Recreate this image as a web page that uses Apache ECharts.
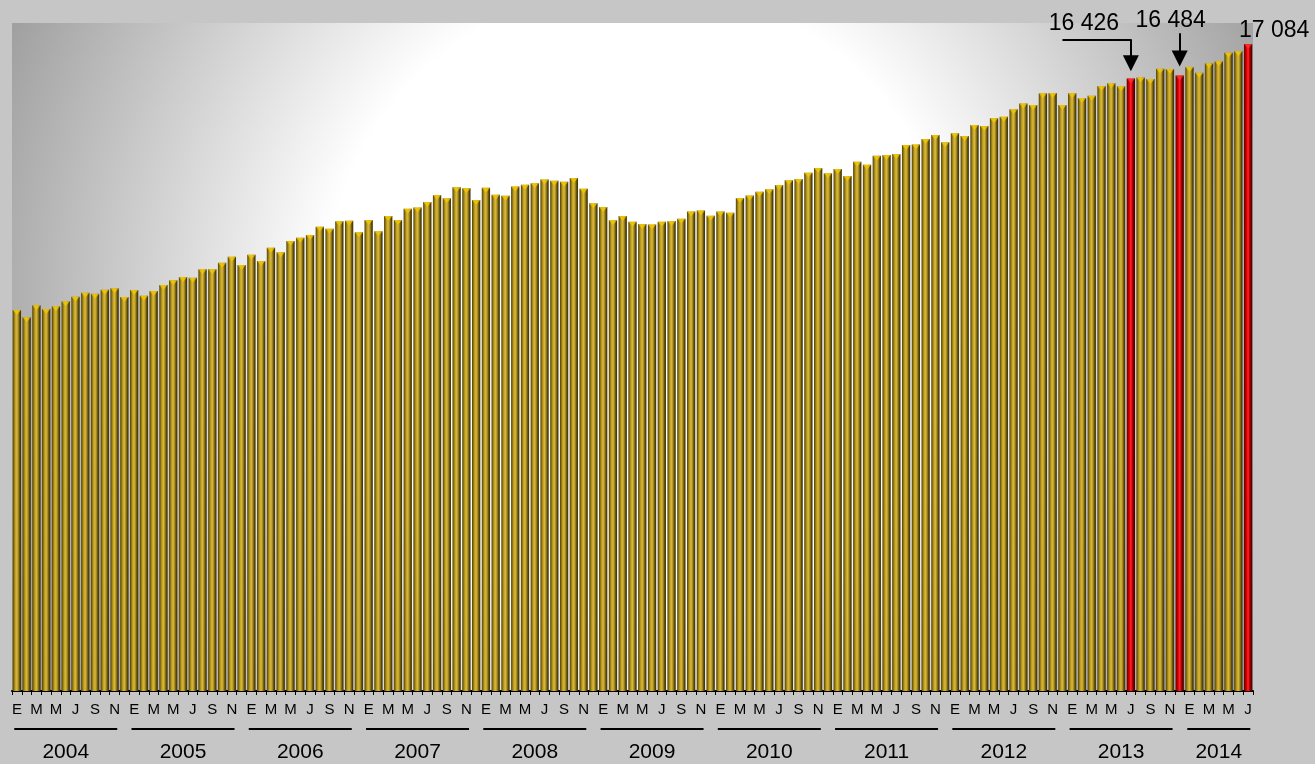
<!DOCTYPE html>
<html>
<head>
<meta charset="utf-8">
<script src="https://cdn.jsdelivr.net/npm/echarts@6/dist/echarts.min.js"></script>
<style>
  html, body { margin: 0; padding: 0; background: #c6c6c6; }
  #chart { width: 1315px; height: 764px; }
</style>
</head>
<body>
<div id="chart"></div>
<script>
// ── datos ──
const startYear = 2004
const monthLetters = ['E', 'F', 'M', 'A', 'M', 'J', 'J', 'A', 'S', 'O', 'N', 'D']
const years = ['2004', '2005', '2006', '2007', '2008', '2009', '2010', '2011', '2012', '2013', '2014']
const values = [
  12041, 11903, 12131, 12060, 12112, 12206, 12294, 12369, 12350, 12426, 12453, 12288, // 2004
  12421, 12313, 12402, 12515, 12604, 12667, 12654, 12813, 12813, 12938, 13052, 12894, // 2005
  13090, 12970, 13222, 13135, 13349, 13412, 13463, 13620, 13582, 13723, 13734, 13514, // 2006
  13747, 13533, 13823, 13747, 13962, 13981, 14089, 14221, 14159, 14367, 14348, 14126, // 2007
  14360, 14227, 14208, 14379, 14416, 14443, 14515, 14492, 14473, 14543, 14339, 14064, // 2008
  13994, 13742, 13823, 13715, 13672, 13662, 13715, 13728, 13772, 13908, 13927, 13829, // 2009
  13908, 13886, 14164, 14212, 14284, 14329, 14411, 14500, 14524, 14644, 14733, 14632, // 2010
  14714, 14581, 14852, 14795, 14966, 14979, 14998, 15169, 15175, 15283, 15358, 15220, // 2011
  15391, 15339, 15548, 15529, 15675, 15705, 15846, 15952, 15927, 16149, 16154, 15927, // 2012
  16149, 16060, 16103, 16287, 16338, 16282, 16426, 16445, 16420, 16615, 16609, 16484, // 2013
  16647, 16539, 16717, 16755, 16918, 16945, 17084                                     // 2014
]
// barras resaltadas en rojo (jul-2013, dic-2013, jul-2014)
const highlightIdx = [114, 119, 126]

// categorías "AAAA-M"
const categories = values.map((v, i) => `${startYear + Math.floor(i / 12)}-${i % 12 + 1}`)

// etiqueta de año centrada bajo cada grupo de meses
const yearLabelAt = {}
years.forEach((y, k) => {
  const start = k * 12
  const n = Math.min(12, values.length - start)
  yearLabelAt[start + Math.floor((n - 1) / 2)] = { year: y, full: n === 12 }
})

const FONT = "'Liberation Sans', Arial, sans-serif"

function fmt(v) {
  return String(v).replace(/\B(?=(\d{3})+(?!\d))/g, ' ')
}

function barGradient(c) {
  return {
    type: 'linear', x: 0, y: 0, x2: 1, y2: 0,
    colorStops: c.map((col, i) => ({ offset: i / (c.length - 1), color: col })),
  }
}
const GOLD = barGradient(['#4a3c08', '#8c7412', '#c8a420', '#d6b840', '#a88c1c', '#5e4c0c', '#3a2e06'])
const RED  = barGradient(['#5a0000', '#a00000', '#e00000', '#ff2a2a', '#c00000', '#700000', '#400000'])

// posiciones de las etiquetas de valor (dx, dy)
const labelOffsets = { 114: [-47, -38], 119: [-9, -38], 126: [26, 3] }

const barData = values.map((v, i) => {
  const hot = highlightIdx.includes(i)
  const item = { value: v, itemStyle: { color: hot ? RED : GOLD } }
  if (hot) {
    item.label = {
      show: true, position: 'top', offset: labelOffsets[i],
      formatter: p => fmt(p.value),
      fontSize: 23, color: '#000', fontFamily: FONT,
    }
  }
  return item
})

const capData = values.map((v, i) => ({
  value: v,
  itemStyle: { color: highlightIdx.includes(i) ? '#ff3030' : '#f2c800' },
}))

// flechas de anotación
const vJul = values[114], vDic = values[119]
const arrowLines = [
  [{ coord: [categories[107], vJul + 745], symbol: 'none' },
   { coord: [categories[114], vJul + 745], symbol: 'none' }],
  [{ coord: [categories[114], vJul + 745], symbol: 'none' },
   { coord: [categories[114], vJul + 290], symbol: 'triangle' }],
  [{ coord: [categories[119], vDic + 800], symbol: 'none' },
   { coord: [categories[119], vDic + 325], symbol: 'triangle' }],
]

const chart = echarts.init(document.getElementById('chart'))

chart.setOption({
  animation: false,
  backgroundColor: '#c6c6c6',
  grid: {
    left: 12, right: 62, top: 23, bottom: 73,
    show: true, borderWidth: 0,
    backgroundColor: {
      type: 'radial', x: 640, y: 300, r: 700, global: true,
      colorStops: [
        { offset: 0, color: '#ffffff' },
        { offset: 0.45, color: '#ffffff' },
        { offset: 1, color: '#9c9c9c' },
      ],
    },
  },
  xAxis: [
    {
      type: 'category',
      data: categories,
      axisLine: { lineStyle: { color: '#000', width: 2 } },
      axisTick: { show: true, interval: 0, length: 4, lineStyle: { color: '#000', width: 1 } },
      axisLabel: {
        interval: 1, margin: 11,
        formatter: (v, i) => monthLetters[i % 12],
        fontSize: 15, color: '#000', fontFamily: FONT,
      },
      splitLine: { show: false },
    },
    {
      type: 'category',
      data: categories,
      position: 'bottom',
      axisLine: { show: false },
      axisTick: { show: false },
      axisLabel: {
        interval: 0, margin: 37,
        formatter: (v, i) => {
          const y = yearLabelAt[i]
          if (!y) return ''
          return (y.full ? '{l| }' : '{s| }') + '\n{y|' + y.year + '}'
        },
        rich: {
          l: { width: 103, height: 2, lineHeight: 2, fontSize: 2, backgroundColor: '#000' },
          s: { width: 63, height: 2, lineHeight: 2, fontSize: 2, backgroundColor: '#000' },
          y: { fontSize: 21, lineHeight: 45, color: '#000', fontFamily: FONT },
        },
      },
      splitLine: { show: false },
    },
  ],
  yAxis: {
    type: 'value', min: 4820, max: 17480, show: false,
    splitLine: { show: false },
  },
  series: [
    {
      type: 'bar',
      data: barData,
      barCategoryGap: '15%',
      markLine: {
        silent: true,
        symbolSize: [16, 16],
        label: { show: false },
        lineStyle: { color: '#000', width: 2, type: 'solid' },
        itemStyle: { color: '#000' },
        data: arrowLines,
      },
    },
    {
      type: 'scatter',
      data: capData,
      symbol: 'triangle',
      symbolRotate: 180,
      symbolSize: [8, 5],
      symbolOffset: [0, 2.5],
      z: 5,
    },
  ],
})
</script>
</body>
</html>
